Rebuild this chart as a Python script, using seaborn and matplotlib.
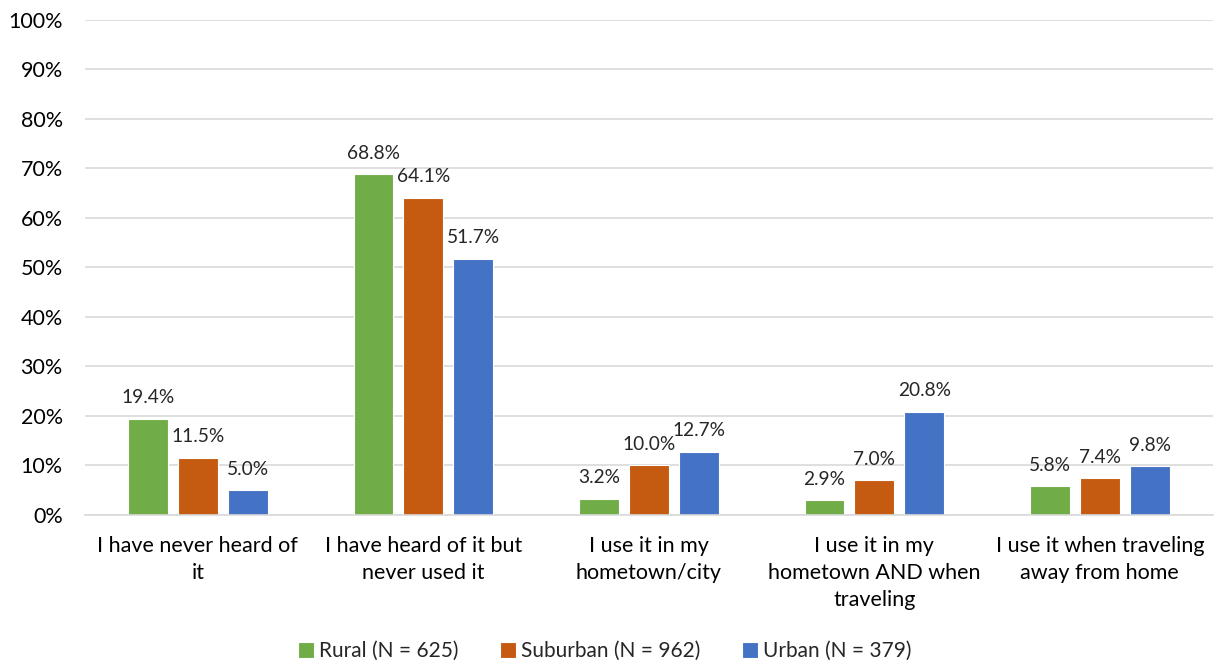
import matplotlib
matplotlib.use("Agg")
import matplotlib.pyplot as plt
import seaborn as sns
import pandas as pd
from matplotlib.ticker import PercentFormatter

categories = ["I have never heard of\nit", "I have heard of it but\nnever used it",
              "I use it in my\nhometown/city", "I use it in my\nhometown AND when\ntraveling",
              "I use it when traveling\naway from home"]
series = ["Rural (N = 625)", "Suburban (N = 962)", "Urban (N = 379)"]
rural = [19.4, 68.8, 3.2, 2.9, 5.8]
suburban = [11.5, 64.1, 10.0, 7.0, 7.4]
urban = [5.0, 51.7, 12.7, 20.8, 9.8]
colors = ["#70AD47", "#C55A11", "#4472C4"]

rows = []
for s, vals in zip(series, [rural, suburban, urban]):
    for c, v in zip(categories, vals):
        rows.append({"cat": c, "series": s, "val": v})
df = pd.DataFrame(rows)

sns.set_theme(style="white")
plt.rcParams['font.family'] = ['Lato', 'DejaVu Sans']

fig = plt.figure(figsize=(12.15, 6.66), dpi=100)
ax = fig.add_axes([0.07, 0.227, 0.928, 0.743])
sns.barplot(data=df, x="cat", y="val", hue="series", palette=colors, ax=ax,
            width=0.663, gap=0.2, edgecolor="white", linewidth=0.8, saturation=1,
            errorbar=None)
ax.set_ylim(0, 100)
ax.set_xlim(-0.5, 4.5)
ax.set_yticks(range(0, 101, 10))
ax.yaxis.set_major_formatter(PercentFormatter(decimals=0))
ax.grid(axis="y", color="#D9D9D9", linewidth=1.2)
ax.set_axisbelow(True)
for sp in ["top", "right", "left"]:
    ax.spines[sp].set_visible(False)
ax.spines["bottom"].set_color("#D9D9D9")
ax.spines["bottom"].set_linewidth(1.2)
ax.set_xlabel("")
ax.set_ylabel("")
ax.tick_params(axis="both", length=0, labelsize=15.5, colors="#000000")
ax.tick_params(axis="y", pad=16)
ax.tick_params(axis="x", pad=15)
for t in ax.get_xticklabels():
    t.set_linespacing(1.45)

for cont in ax.containers:
    ax.bar_label(cont, fmt="%.1f%%", padding=9, fontsize=13.8)

handles, labels = ax.get_legend_handles_labels()
if ax.get_legend() is not None:
    ax.get_legend().remove()
fig.legend(handles, labels, loc="center", bbox_to_anchor=(0.498, 0.022), ncol=3,
           frameon=False, fontsize=15, handlelength=0.75, handleheight=0.75,
           handletextpad=0.25, columnspacing=2.0, borderpad=0)

fig.savefig("out.png", dpi=100)
